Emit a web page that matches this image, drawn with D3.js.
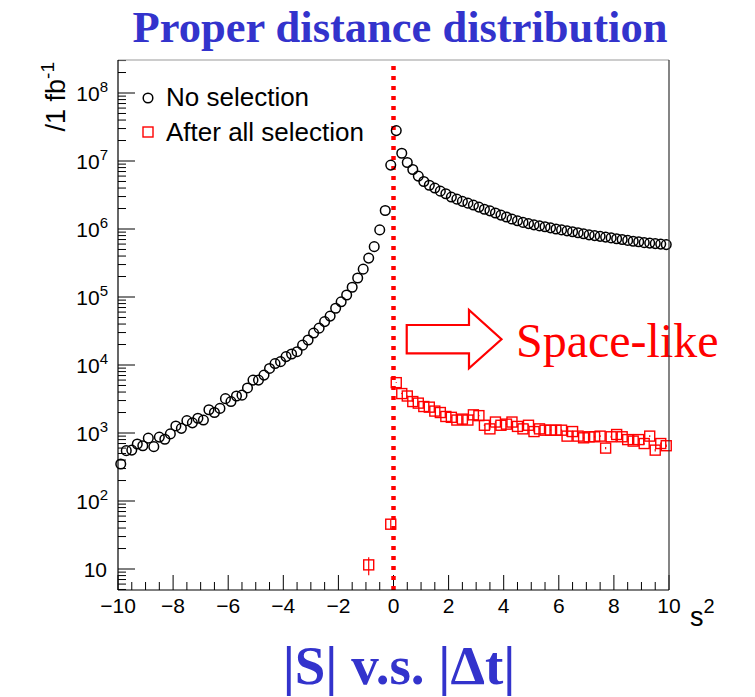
<!DOCTYPE html>
<html>
<head>
<meta charset="utf-8">
<script src="https://cdn.jsdelivr.net/npm/d3@7"></script>
<style>
  html, body { margin: 0; padding: 0; background: #fff; }
  svg { display: block; }
</style>
</head>
<body>
<svg id="chart" width="755" height="697"></svg>
<script>
// ---------------- DATA ----------------
const binWidth = 0.2;
const xDomain = [-10, 10];
const xTickValues = [-10, -8, -6, -4, -2, 0, 2, 4, 6, 8, 10];
const yTickExponents = [1, 2, 3, 4, 5, 6, 7, 8];

// "No selection": bins -9.9 ... -0.1
const noSelNeg = [
  350, 550, 560, 690, 650, 840, 630, 870, 810, 970,
  1270, 1170, 1520, 1410, 1650, 1550, 2200, 2000, 2300, 3200,
  2900, 3500, 3600, 4600, 6000, 6000, 7100, 8900, 10500, 11200,
  13300, 14500, 15700, 19600, 23300, 29500, 34800, 43500, 52400, 68300,
  85000, 107000, 139000, 190000, 257000, 373000, 550000, 970000, 1870000, 8700000
];
// "No selection": bins 0.1 ... 9.9
const noSelPos = [
  2.8e7, 1.3e7, 9.5e6, 7.5e6, 6.0e6, 5.0e6, 4.4e6, 4.0e6, 3.6e6, 3.3e6,
  2.95e6, 2.75e6, 2.55e6, 2.4e6, 2.25e6, 2.1e6, 1.95e6, 1.85e6, 1.72e6, 1.6e6,
  1.5e6, 1.4e6, 1.32e6, 1.25e6, 1.2e6, 1.15e6, 1.11e6, 1.08e6, 1.04e6, 1.0e6,
  9.7e5, 9.4e5, 9.1e5, 8.8e5, 8.5e5, 8.2e5, 8.0e5, 7.8e5, 7.6e5, 7.4e5,
  7.2e5, 7.0e5, 6.8e5, 6.6e5, 6.5e5, 6.3e5, 6.2e5, 6.1e5, 6.0e5, 5.9e5
];
// "After all selection": bins 0.1 ... 9.9
const allSelPos = [
  5500, 3800, 3500, 2900, 2750, 2450, 2400, 2100, 2000, 1750,
  1700, 1550, 1600, 1550, 1850, 1800, 1300, 1150, 1450, 1300,
  1350, 1450, 1250, 1150, 1300, 1050, 1150, 1100, 1100, 1100,
  1100, 900, 1050, 900, 850, 880, 880, 900, 600, 880,
  950, 880, 800, 760, 800, 700, 900, 560, 700, 650
];
// "After all selection": non-empty bins with s^2 < 0
const allSelNegS = [-0.9, -0.1];
const allSelNegV = [11.5, 45.6];
const allSelNegErr = [3.4, 6.8];

// ---------------- LAYOUT ----------------
const svg = d3.select("#chart");
const frame = { left: 118, right: 669, top: 60, bottom: 590 };
const yMin = Math.pow(10, 0.6912), yMax = Math.pow(10, 8.4853);

const x = d3.scaleLinear().domain(xDomain).range([frame.left, frame.right]);
const y = d3.scaleLog().domain([yMin, yMax]).range([frame.bottom, frame.top]);

const negCenters = noSelNeg.map((_, i) => xDomain[0] + binWidth * (i + 0.5));
const posCenters = noSelPos.map((_, i) => 0 + binWidth * (i + 0.5));

const sans = "'Liberation Sans', Arial, Helvetica, sans-serif";
const serif = "'Liberation Serif', 'Times New Roman', serif";

const R = 4.8;      // circle radius
const H = 5.0;      // half square side

// Title
svg.append("text")
  .attr("x", 400).attr("y", 42)
  .attr("text-anchor", "middle")
  .attr("font-family", serif).attr("font-weight", "bold")
  .attr("font-size", 44.5).attr("fill", "#3333cc")
  .text("Proper distance distribution");

// Bottom caption
svg.append("text")
  .attr("x", 399).attr("y", 684)
  .attr("text-anchor", "middle")
  .attr("font-family", serif).attr("font-weight", "bold")
  .attr("font-size", 55).attr("fill", "#3333cc")
  .text("|S| v.s. |Δt|");

// ---------------- AXES ----------------
const g = svg.append("g");

const xMinor = d3.range(-10, 10.001, 0.5).filter(v => Math.abs(v / 2 - Math.round(v / 2)) > 1e-6);
g.selectAll(".xmaj").data(xTickValues).join("line")
  .attr("x1", d => x(d)).attr("x2", d => x(d))
  .attr("y1", frame.bottom).attr("y2", frame.bottom - 15)
  .attr("stroke", "#000").attr("stroke-width", 1);
g.selectAll(".xmin").data(xMinor).join("line")
  .attr("x1", d => x(d)).attr("x2", d => x(d))
  .attr("y1", frame.bottom).attr("y2", frame.bottom - 8)
  .attr("stroke", "#000").attr("stroke-width", 1);
g.selectAll(".xlab").data(xTickValues).join("text")
  .attr("x", d => x(d)).attr("y", 613)
  .attr("text-anchor", "middle")
  .attr("font-family", sans).attr("font-size", 21).attr("fill", "#000")
  .text(d => d < 0 ? "\u2212" + Math.abs(d) : String(d));

// x title s^2
const xt = svg.append("text")
  .attr("x", 690).attr("y", 626)
  .attr("font-family", sans).attr("font-size", 27).attr("fill", "#000");
xt.append("tspan").text("s");
xt.append("tspan").attr("dy", -13).attr("font-size", 20).text("2");

// y ticks (inside, rightward)
const yMajors = yTickExponents.map(e => Math.pow(10, e));
const yMinors = [];
for (let e = 0; e <= 8; e++) {
  for (let m = 2; m <= 9; m++) {
    const v = m * Math.pow(10, e);
    if (v >= yMin && v <= yMax) yMinors.push(v);
  }
}
g.selectAll(".ymaj").data(yMajors).join("line")
  .attr("x1", frame.left).attr("x2", frame.left + 17)
  .attr("y1", d => y(d)).attr("y2", d => y(d))
  .attr("stroke", "#000").attr("stroke-width", 1);
g.selectAll(".ymin").data(yMinors).join("line")
  .attr("x1", frame.left).attr("x2", frame.left + 8)
  .attr("y1", d => y(d)).attr("y2", d => y(d))
  .attr("stroke", "#000").attr("stroke-width", 1);

yTickExponents.forEach(e => {
  const t = g.append("text")
    .attr("font-family", sans).attr("font-size", 21).attr("fill", "#000")
    .attr("text-anchor", "end")
    .attr("x", 108).attr("y", y(Math.pow(10, e)) + 8);
  if (e === 1) {
    t.attr("x", 107).text("10");
  } else {
    t.append("tspan").text("10");
    t.append("tspan").attr("dy", -9).attr("font-size", 15).text(String(e));
  }
});

// y title
const yt = svg.append("text")
  .attr("transform", "translate(65,62) rotate(-90)")
  .attr("text-anchor", "end")
  .attr("font-family", sans).attr("font-size", 27).attr("fill", "#000");
yt.append("tspan").text("/1 fb");
yt.append("tspan").attr("dy", -11).attr("font-size", 19).text("-1");

// ---------------- ANNOTATION ----------------
const arrow = [
  [0.48, 4.588], [2.74, 4.588], [2.74, 4.809], [3.92, 4.378],
  [2.74, 3.951], [2.74, 4.172], [0.48, 4.172]
];
svg.append("polygon")
  .attr("points", arrow.map(p => [x(p[0]), y(Math.pow(10, p[1]))].join(",")).join(" "))
  .attr("fill", "#fff").attr("stroke", "#ff0000").attr("stroke-width", 2.2)
  .attr("stroke-linejoin", "miter");

svg.append("text")
  .attr("x", 516).attr("y", 357)
  .attr("font-family", serif).attr("font-size", 48).attr("fill", "#ff0000")
  .text("Space-like");

// ---------------- DATA MARKS ----------------
svg.append("line")
  .attr("x1", x(0)).attr("x2", x(0))
  .attr("y1", frame.bottom).attr("y2", frame.top + 6)
  .attr("stroke", "#ff0000").attr("stroke-width", 4.5)
  .attr("stroke-dasharray", "4,6");

const blackPts = negCenters.map((s, i) => [s, noSelNeg[i]])
  .concat(posCenters.map((s, i) => [s, noSelPos[i]]));
svg.append("g").selectAll("circle").data(blackPts).join("circle")
  .attr("cx", d => x(d[0])).attr("cy", d => y(d[1]))
  .attr("r", R)
  .attr("fill", "none").attr("stroke", "#000").attr("stroke-width", 1.5);

const redPts = allSelNegS.map((s, i) => [s, allSelNegV[i], allSelNegErr[i]])
  .concat(posCenters.map((s, i) => [s, allSelPos[i], Math.sqrt(allSelPos[i])]));
const rg = svg.append("g");
rg.selectAll("line").data(redPts).join("line")
  .attr("x1", d => x(d[0])).attr("x2", d => x(d[0]))
  .attr("y1", d => y(d[1] - d[2])).attr("y2", d => y(d[1] + d[2]))
  .attr("stroke", "#ff0000").attr("stroke-width", 1.2);
rg.selectAll("rect").data(redPts).join("rect")
  .attr("x", d => x(d[0]) - H).attr("y", d => y(d[1]) - H)
  .attr("width", 2 * H).attr("height", 2 * H)
  .attr("fill", "none")
  .attr("stroke", "#ff0000").attr("stroke-width", 1.4);

// ---------------- LEGEND ----------------
svg.append("circle").attr("cx", 148).attr("cy", 98).attr("r", R)
  .attr("fill", "none").attr("stroke", "#000").attr("stroke-width", 1.5);
svg.append("text").attr("x", 166).attr("y", 106)
  .attr("font-family", sans).attr("font-size", 26).attr("fill", "#000")
  .text("No selection");
svg.append("rect").attr("x", 148 - H).attr("y", 132 - H).attr("width", 2 * H).attr("height", 2 * H)
  .attr("fill", "none").attr("stroke", "#ff0000").attr("stroke-width", 1.4);
svg.append("text").attr("x", 166).attr("y", 141)
  .attr("font-family", sans).attr("font-size", 26).attr("fill", "#000")
  .text("After all selection");

// ---------------- FRAME ----------------
svg.append("line").attr("x1", frame.left).attr("x2", frame.right)
  .attr("y1", frame.top).attr("y2", frame.top).attr("stroke", "#999").attr("stroke-width", 1);
svg.append("line").attr("x1", frame.right).attr("x2", frame.right)
  .attr("y1", frame.top).attr("y2", frame.bottom).attr("stroke", "#333").attr("stroke-width", 1.2);
svg.append("line").attr("x1", frame.left).attr("x2", frame.left)
  .attr("y1", frame.top).attr("y2", frame.bottom).attr("stroke", "#000").attr("stroke-width", 1.2);
svg.append("line").attr("x1", frame.left).attr("x2", frame.right)
  .attr("y1", frame.bottom).attr("y2", frame.bottom).attr("stroke", "#000").attr("stroke-width", 1.2);
</script>
</body>
</html>
